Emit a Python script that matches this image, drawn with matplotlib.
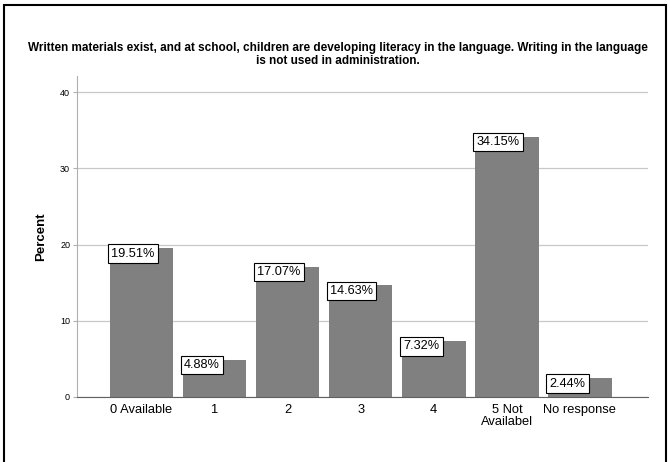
import matplotlib.pyplot as plt
from matplotlib.patches import Rectangle

categories = ["0 Available", "1", "2", "3", "4", "5 Not\nAvailabel", "No response"]
percents = [19.51, 4.88, 17.07, 14.63, 7.32, 34.15, 2.44]
y_ticks = [0, 10, 20, 30, 40]

title = ("Written materials exist, and at school, children are developing literacy in the language. "
         "Writing in the language\nis not used in administration.")

plt.rcParams['font.family'] = ['Liberation Sans', 'DejaVu Sans']

fig = plt.figure(figsize=(6.7, 4.62), dpi=100)
ax = fig.add_axes([0.115, 0.141, 0.852, 0.694])

x = list(range(len(categories)))
width = 0.87
ax.bar(x, percents, width=width, color="#808080", zorder=2)

# grid lines
ax.set_ylim(0, 42.1)
ax.set_xlim(-0.88, 6.93)
ax.set_yticks(y_ticks)
ax.set_yticklabels([str(t) for t in y_ticks], fontsize=6.5)
ax.yaxis.grid(True, color="#c8c8c8", linewidth=0.9, zorder=0)
ax.set_xticks(x)
ax.set_xticklabels(categories, fontsize=9.3, linespacing=1.05)
ax.tick_params(axis='x', length=0, pad=5)
ax.tick_params(axis='y', length=3, color="#b0b0b0", pad=2)

for side in ["top", "right"]:
    ax.spines[side].set_visible(False)
ax.spines["left"].set_color("#b0b0b0")
ax.spines["bottom"].set_color("#606060")
ax.spines["bottom"].set_zorder(3)

ax.set_ylabel("Percent", fontsize=9.5, fontweight="bold", labelpad=9)

# value labels in boxes at top-left of bars
for xi, v in zip(x, percents):
    ax.annotate(f"{v:.2f}%", xy=(xi - width / 2, v), xytext=(1, 0.5),
                textcoords="offset points", ha="left", va="top", fontsize=9.2,
                bbox=dict(boxstyle="square,pad=0.25", fc="white", ec="black", lw=0.8),
                zorder=4)

fig.text(0.505, 0.882, title, ha="center", va="center", fontsize=8.5,
         fontweight="bold", linespacing=1.15)

# outer black frame
fig.patches.append(Rectangle((0.006, -0.05), 0.988, 1.04, transform=fig.transFigure,
                             fill=False, ec="black", lw=1.5))

fig.savefig("out.png", dpi=100)
